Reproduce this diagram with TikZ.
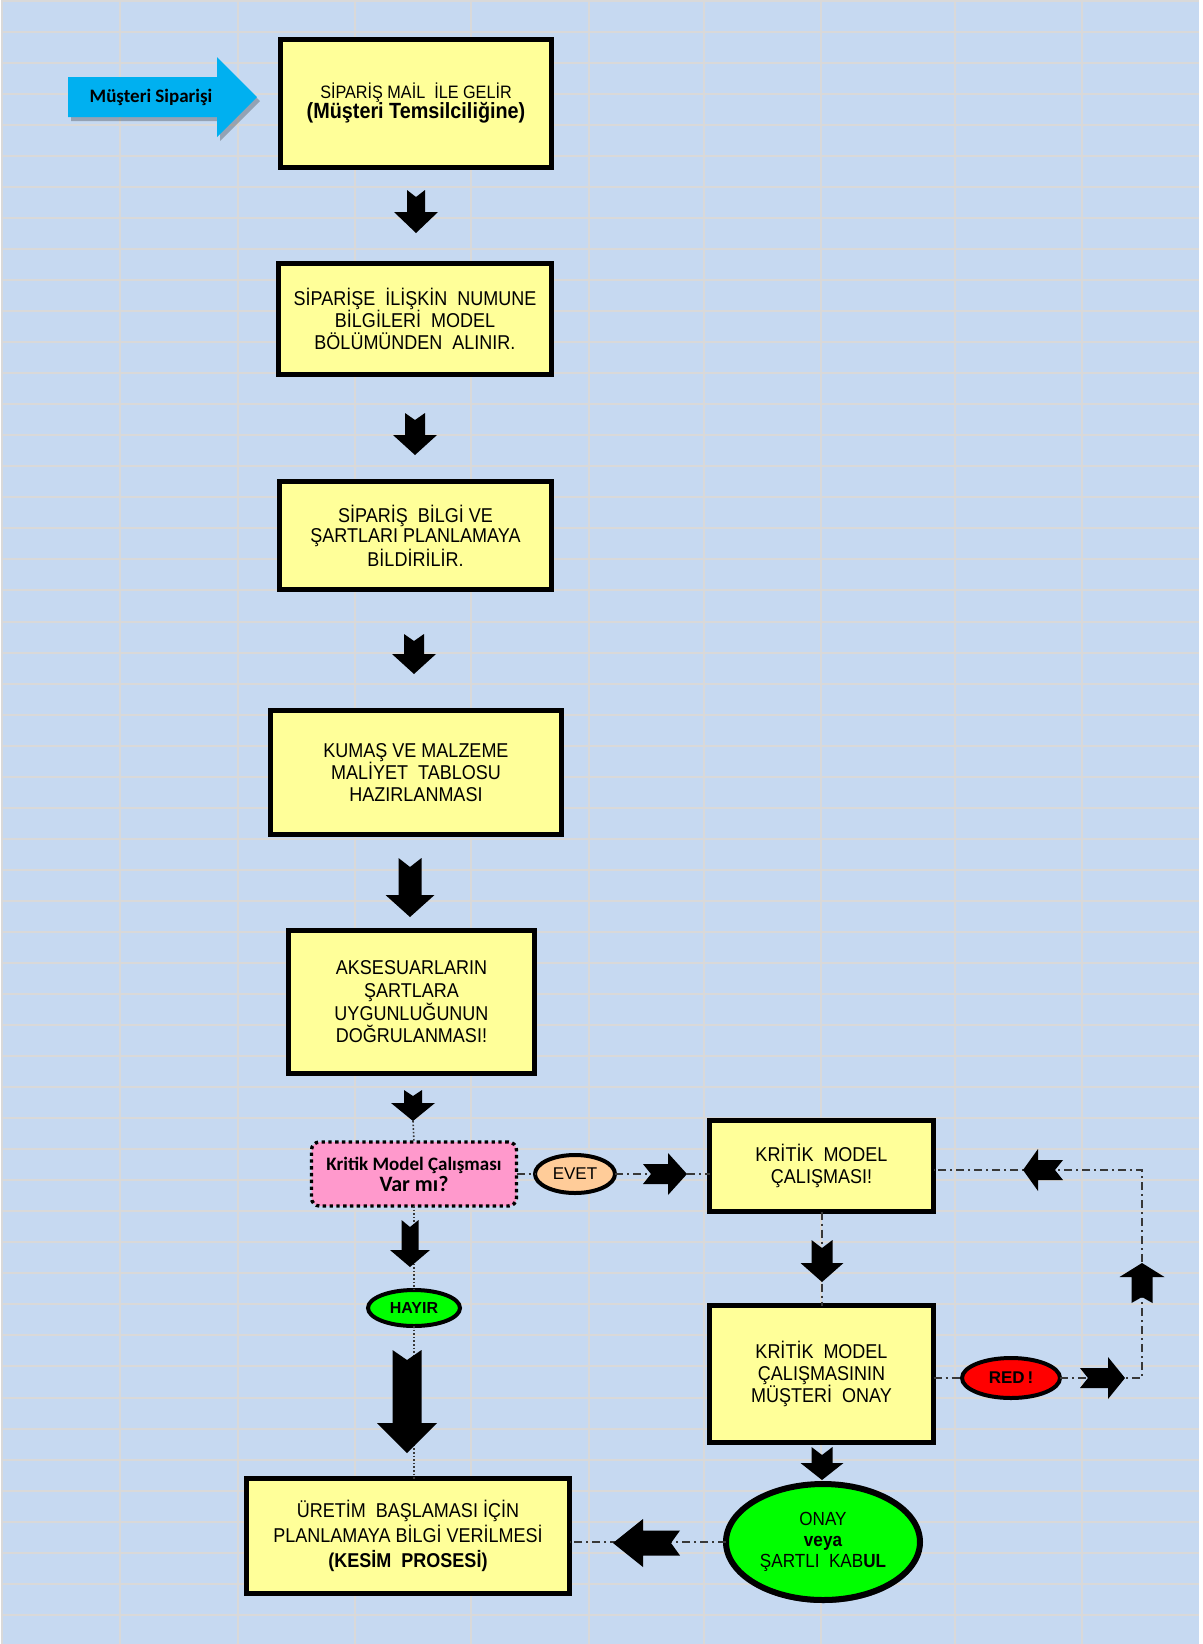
\documentclass[tikz,border=0pt]{standalone}
\usepackage{fontspec}
\setmainfont{Liberation Sans}
\newfontfamily\cellfont[FakeStretch=0.9]{Liberation Sans}
\newfontfamily\calfont{Carlito}
\usetikzlibrary{shapes.geometric,calc,shadows}

\definecolor{sheet}{HTML}{C6D9F1}
\definecolor{gridln}{HTML}{D9D9D9}
\definecolor{boxyellow}{HTML}{FFFF99}
\definecolor{qpink}{HTML}{FF99CC}
\definecolor{evetpeach}{HTML}{FFCC99}
\definecolor{okgreen}{HTML}{00FF00}
\definecolor{redfill}{HTML}{FF0000}
\definecolor{custblue}{HTML}{00B0F0}
\definecolor{linkgrey}{HTML}{383838}

% notched block arrow: tip, angle, length, shaft width, head length, head width, notch depth
\newcommand{\notcharrow}[7]{%
  \fill[black,shift={#1},rotate=#2]
    (0,0) -- (-#5,#6/2) -- (-#5,#4/2) -- (-#3,#4/2) -- (-#3+#7,0)
    -- (-#3,-#4/2) -- (-#5,-#4/2) -- (-#5,-#6/2) -- cycle;}

\tikzset{
  ybox/.style={draw=black, line width=2.5pt, fill=boxyellow, align=center,
    inner sep=0pt, outer sep=0pt,
    font=\cellfont\fontsize{10}{11}\selectfont,
    drop shadow={shadow xshift=0.8pt, shadow yshift=-1pt, fill=black, opacity=0.5}},
  tag/.style={ellipse, draw=black, line width=2pt, inner sep=0pt, outer sep=0pt,
    align=center, font=\fontsize{8.5}{9}\selectfont},
  dashdotlink/.style={draw=linkgrey, line width=1pt,
    dash pattern=on 4pt off 2pt on 1pt off 2pt},
  dotlink/.style={draw=linkgrey, line width=0.8pt, dash pattern=on 0.8pt off 1pt},
}

\begin{document}
\begin{tikzpicture}[x=0.5pt,y=-0.5pt]
\useasboundingbox (0,0) rectangle (1203,1644);

% spreadsheet background
\fill[white] (0,0) rectangle (1203,1644);
\fill[sheet] (2,0) rectangle (1199,1644);
\foreach \gx in {2,120,238,355,471,589,704,821,955,1082}
  \draw[gridln, line width=1pt] (\gx,0) -- (\gx,1644);
\foreach \k in {0,...,52}
  \draw[gridln, line width=1pt] (2,{0.7+31.04*\k}) -- (1199,{0.7+31.04*\k});

% incoming order arrow
\fill[black,opacity=0.25] (71,81) -- (220,81) -- (220,61) -- (260,101) -- (220,141) -- (220,121) -- (71,121) -- cycle;
\fill[custblue] (68,77) -- (217,77) -- (217,57) -- (257,97) -- (217,137) -- (217,117) -- (68,117) -- cycle;
\node[font=\calfont\bfseries\fontsize{9.5}{10}\selectfont, inner sep=0pt] (cust) at (151,97) {Müşteri Siparişi};

% process boxes
\node[ybox, minimum width=135.5pt, minimum height=64pt] (b1) at (416,103.5)
  {{\fontsize{9}{11}\selectfont SİPARİŞ MAİL\ \ İLE GELİR}\\[-1pt]
   {\bfseries\fontsize{11}{12}\selectfont (Müşteri Temsilciliğine)}};
\node[ybox, minimum width=136.5pt, minimum height=55.5pt] (b2) at (415,319)
  {SİPARİŞE\ \ İLİŞKİN\ \ NUMUNE\\BİLGİLERİ\ \ MODEL\\BÖLÜMÜNDEN\ \ ALINIR.};
\node[ybox, minimum width=136pt, minimum height=54pt, font=\cellfont\fontsize{10}{9}\selectfont] (b3) at (415.5,535.5)
  {SİPARİŞ\ \ BİLGİ VE\\ŞARTLARI PLANLAMAYA\\BİLDİRİLİR.};
\node[ybox, minimum width=145.5pt, minimum height=62pt] (b4) at (416,772.5)
  {KUMAŞ VE MALZEME\\MALİYET\ \ TABLOSU\\HAZIRLANMASI};
\node[ybox, minimum width=123pt, minimum height=71.5pt, font=\cellfont\fontsize{10}{11.3}\selectfont] (b5) at (411.5,1002)
  {AKSESUARLARIN\\ŞARTLARA\\UYGUNLUĞUNUN\\DOĞRULANMASI!};

% decision
\node[draw=black, line width=1.7pt, dash pattern=on 1.7pt off 1.7pt, fill=qpink,
  rounded corners=4pt, minimum width=102.5pt, minimum height=32pt, inner sep=0pt,
  outer sep=0pt, align=center, font=\calfont\bfseries\fontsize{9.5}{10}\selectfont] (q) at (414,1174)
  {Kritik Model Çalışması\\[0.5pt]{\fontsize{11}{12}\selectfont Var mı?}};
\node[tag, fill=evetpeach, minimum width=40pt, minimum height=19pt] (evet) at (575,1174) {EVET};
\node[tag, fill=okgreen, minimum width=46pt, minimum height=18pt, font=\bfseries\fontsize{8}{9}\selectfont] (hayir) at (414,1308) {HAYIR};

% critical model branch
\node[ybox, minimum width=112pt, minimum height=45.5pt] (k1) at (821.5,1166)
  {KRİTİK\ \ MODEL\\ÇALIŞMASI!};
\node[ybox, minimum width=112pt, minimum height=68.5pt] (k2) at (821.5,1374)
  {KRİTİK\ \ MODEL\\ÇALIŞMASININ\\MÜŞTERİ\ \ ONAY};
\node[tag, fill=redfill, minimum width=49pt, minimum height=20pt, font=\bfseries\fontsize{8.5}{9}\selectfont] (red) at (1011,1378) {RED\,!};
\node[ellipse, draw=black, line width=3pt, fill=okgreen, inner sep=0pt, outer sep=0pt,
  minimum width=97pt, minimum height=58pt, align=center,
  font=\cellfont\fontsize{9.5}{10.5}\selectfont,
  drop shadow={shadow xshift=0.5pt, shadow yshift=-1.5pt, fill=black, opacity=0.6}] (onay) at (823,1542)
  {ONAY\\{\bfseries veya}\\ŞARTLI\ \ KAB{\bfseries UL}};

% final step
\node[ybox, minimum width=161.5pt, minimum height=57.5pt, font=\cellfont\fontsize{10}{12.5}\selectfont] (fin) at (408,1536)
  {ÜRETİM\ \ BAŞLAMASI İÇİN\\PLANLAMAYA BİLGİ VERİLMESİ\\{\bfseries (KESİM\ \ PROSESİ)}};

% connectors
\coordinate (t5) at (413,1121);
\coordinate (loopB) at (1142,1378);
\coordinate (loopT) at (1142,1170);
\draw[dotlink] (t5) -- (q.north);
\draw[dotlink] (q.south) -- (hayir.north);
\draw[dotlink] (hayir.south) -- (hayir.south |- fin.north);
\draw[dashdotlink] (q.east) -- (evet.west);
\draw[dashdotlink] (evet.east) -- (k1.west |- evet.east);
\draw[dashdotlink] (k1.south) -- (k2.north);
\draw[dashdotlink] (red.west -| k2.east) -- (red.west);
\draw[dashdotlink] (red.east) -- (loopB) -- (loopT) -- (loopT -| k1.east);
\draw[dashdotlink] (onay.west) -- (onay.west -| fin.east);

% block arrows
\notcharrow{(416,233)}{-90}{43}{18}{21}{44}{7}
\notcharrow{(415,455)}{-90}{42}{20}{20}{44}{7}
\notcharrow{(414,674)}{-90}{40}{20}{20}{44}{7}
\notcharrow{(410,917)}{-90}{59}{23}{22}{49}{9}
\notcharrow{(413,1121)}{-90}{31}{18}{18}{44}{6}
\notcharrow{(410,1267)}{-90}{47}{17}{17}{40}{7}
\notcharrow{(407,1453)}{-90}{103}{29}{30}{60}{10}
\notcharrow{(687,1174)}{0}{44}{20}{19}{42}{8}
\notcharrow{(822,1282)}{-90}{42}{21}{19}{43}{8}
\notcharrow{(822,1480)}{-90}{33}{21}{17}{43}{8}
\notcharrow{(613,1543)}{180}{67}{25}{30}{48}{9}
\notcharrow{(1125,1378)}{0}{45}{20}{17}{42}{8}
\notcharrow{(1142,1263)}{90}{40}{21}{14}{45}{6}
\notcharrow{(1023,1170)}{180}{40}{20}{15}{42}{8}
\end{tikzpicture}
\end{document}
